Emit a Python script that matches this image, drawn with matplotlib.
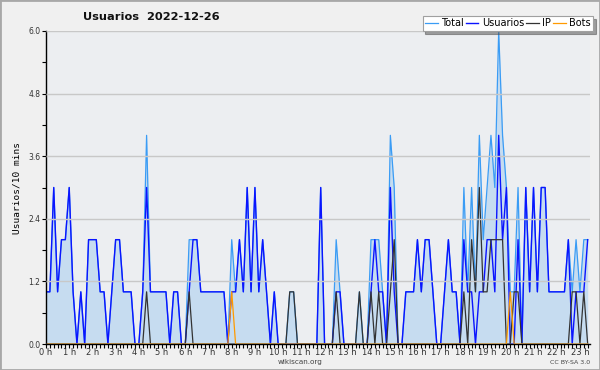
import matplotlib
matplotlib.use('Agg')
import matplotlib.pyplot as plt
from matplotlib.patches import Rectangle
import numpy as np

# values per 10 minutes
total = [1, 1, 3, 1, 2, 2, 3, 1, 0, 1,
         0, 2, 2, 2, 1, 1, 0, 1, 2, 2,
         1, 1, 1, 0, 0, 1, 4, 1, 1, 1,
         1, 1, 0, 1, 1, 0, 0, 2, 2, 2,
         1, 1, 1, 1, 1, 1, 1, 0, 2, 1,
         2, 1, 3, 1, 3, 1, 2, 1, 0, 1,
         0, 0, 0, 1, 1, 0, 0, 0, 0, 0,
         0, 3, 0, 0, 0, 2, 1, 0, 0, 0,
         0, 1, 0, 0, 2, 2, 2, 1, 0, 4,
         3, 0, 0, 1, 1, 1, 2, 1, 2, 2,
         1, 0, 0, 1, 2, 1, 1, 0, 3, 1,
         3, 1, 4, 2, 3, 4, 3, 6, 4, 3,
         1, 1, 3, 0, 3, 1, 3, 1, 3, 3,
         1, 1, 1, 1, 1, 2, 1, 2, 1, 2,
         2]
usuarios = [1, 1, 3, 1, 2, 2, 3, 1, 0, 1,
            0, 2, 2, 2, 1, 1, 0, 1, 2, 2,
            1, 1, 1, 0, 0, 1, 3, 1, 1, 1,
            1, 1, 0, 1, 1, 0, 0, 1, 2, 2,
            1, 1, 1, 1, 1, 1, 1, 0, 1, 1,
            2, 1, 3, 1, 3, 1, 2, 1, 0, 1,
            0, 0, 0, 0, 0, 0, 0, 0, 0, 0,
            0, 3, 0, 0, 0, 1, 1, 0, 0, 0,
            0, 0, 0, 0, 1, 2, 1, 1, 0, 3,
            1, 0, 0, 1, 1, 1, 2, 1, 2, 2,
            1, 0, 0, 1, 2, 1, 1, 0, 2, 1,
            1, 0, 1, 1, 2, 2, 1, 4, 2, 3,
            0, 0, 2, 0, 3, 1, 3, 1, 3, 3,
            1, 1, 1, 1, 1, 2, 0, 1, 1, 1,
            2]
ip = [0, 0, 0, 0, 0, 0, 0, 0, 0, 0,
      0, 0, 0, 0, 0, 0, 0, 0, 0, 0,
      0, 0, 0, 0, 0, 0, 1, 0, 0, 0,
      0, 0, 0, 0, 0, 0, 0, 1, 0, 0,
      0, 0, 0, 0, 0, 0, 0, 0, 0, 0,
      0, 0, 0, 0, 0, 0, 0, 0, 0, 0,
      0, 0, 0, 1, 1, 0, 0, 0, 0, 0,
      0, 0, 0, 0, 0, 1, 0, 0, 0, 0,
      0, 1, 0, 0, 1, 0, 1, 0, 0, 1,
      2, 0, 0, 0, 0, 0, 0, 0, 0, 0,
      0, 0, 0, 0, 0, 0, 0, 0, 1, 0,
      2, 1, 3, 1, 1, 2, 2, 2, 2, 0,
      0, 1, 1, 0, 0, 0, 0, 0, 0, 0,
      0, 0, 0, 0, 0, 0, 1, 1, 0, 1,
      0]
bots = [0, 0, 0, 0, 0, 0, 0, 0, 0, 0,
        0, 0, 0, 0, 0, 0, 0, 0, 0, 0,
        0, 0, 0, 0, 0, 0, 0, 0, 0, 0,
        0, 0, 0, 0, 0, 0, 0, 0, 0, 0,
        0, 0, 0, 0, 0, 0, 0, 0, 1, 0,
        0, 0, 0, 0, 0, 0, 0, 0, 0, 0,
        0, 0, 0, 0, 0, 0, 0, 0, 0, 0,
        0, 0, 0, 0, 0, 0, 0, 0, 0, 0,
        0, 0, 0, 0, 0, 0, 0, 0, 0, 0,
        0, 0, 0, 0, 0, 0, 0, 0, 0, 0,
        0, 0, 0, 0, 0, 0, 0, 0, 0, 0,
        0, 0, 0, 0, 0, 0, 0, 0, 0, 0,
        1, 0, 0, 0, 0, 0, 0, 0, 0, 0,
        0, 0, 0, 0, 0, 0, 0, 0, 0, 0,
        0]

hour_labels = ['%d h' % h for h in range(24)]

fig = plt.figure(figsize=(6, 3.7), dpi=100, facecolor='#f0f0f0')
ax = fig.add_axes([46/600, 26/370, 544/600, 313/370])
ax.set_facecolor('#eceef1')

x = np.arange(len(total))
ax.fill_between(x, total, color='#c6dcf0', lw=0)
ax.plot(x, total, color='#3a9cf5', lw=0.9, label='Total')
ax.plot(x, usuarios, color='#0a14ff', lw=1.0, label='Usuarios')
ax.plot(x, ip, color='#333333', lw=0.9, label='IP')
ax.plot(x, bots, color='#ff9a00', lw=0.9, label='Bots')

ax.set_xlim(0, 140.6)
ax.set_ylim(0, 6)
ax.set_yticks(np.arange(0, 6.01, 1.2))
ax.set_yticks(np.arange(0, 6.01, 0.6), minor=True)
ax.set_yticklabels(['%.1f' % v for v in np.arange(0, 6.01, 1.2)], fontsize=5.5, color='#333333')
ax.set_xticks(np.arange(0, 24) * 6)
ax.set_xticklabels(hour_labels, fontsize=6, color='#333333')
ax.set_xticks(np.arange(0, 141), minor=True)
ax.tick_params(axis='x', which='both', length=3, width=0.8, pad=0)
ax.tick_params(axis='y', which='both', length=3, width=0.8, pad=1)
ax.grid(True, axis='y', which='major', color='#c8c8c8', lw=1)
ax.set_axisbelow(False)
for s in ['top', 'right']:
    ax.spines[s].set_visible(False)
ax.spines['left'].set_linewidth(1)
ax.spines['bottom'].set_linewidth(1)

ax.set_ylabel('Usuarios/10 mins', family='DejaVu Sans Mono', fontsize=6.8, labelpad=5)

leg = ax.legend(loc='upper right', bbox_to_anchor=(593/600, 1 - 16/370), bbox_transform=fig.transFigure,
                ncol=4, fontsize=7, frameon=True, shadow=True, fancybox=False,
                handlelength=1.3, handletextpad=0.35, columnspacing=0.2, borderpad=0.25,
                borderaxespad=0)
leg.get_frame().set_edgecolor('#a0a0a0')
leg.get_frame().set_linewidth(0.8)

fig.text(151/600, 1 - 17/370, 'Usuarios  2022-12-26', ha='center', va='center',
         fontsize=8.2, weight='bold', color='#111111')
fig.text(300/600, 1 - 362/370, 'wikiscan.org', ha='center', va='center', fontsize=5.2, color='#444444')
fig.text(590/600, 1 - 362/370, 'CC BY-SA 3.0', ha='right', va='center', fontsize=4.5, color='#444444')
fig.patches.append(Rectangle((0, 0), 1, 1, transform=fig.transFigure, fill=False,
                             edgecolor='#a8a8a8', lw=2))

fig.savefig('out.png', dpi=100, facecolor=fig.get_facecolor())
